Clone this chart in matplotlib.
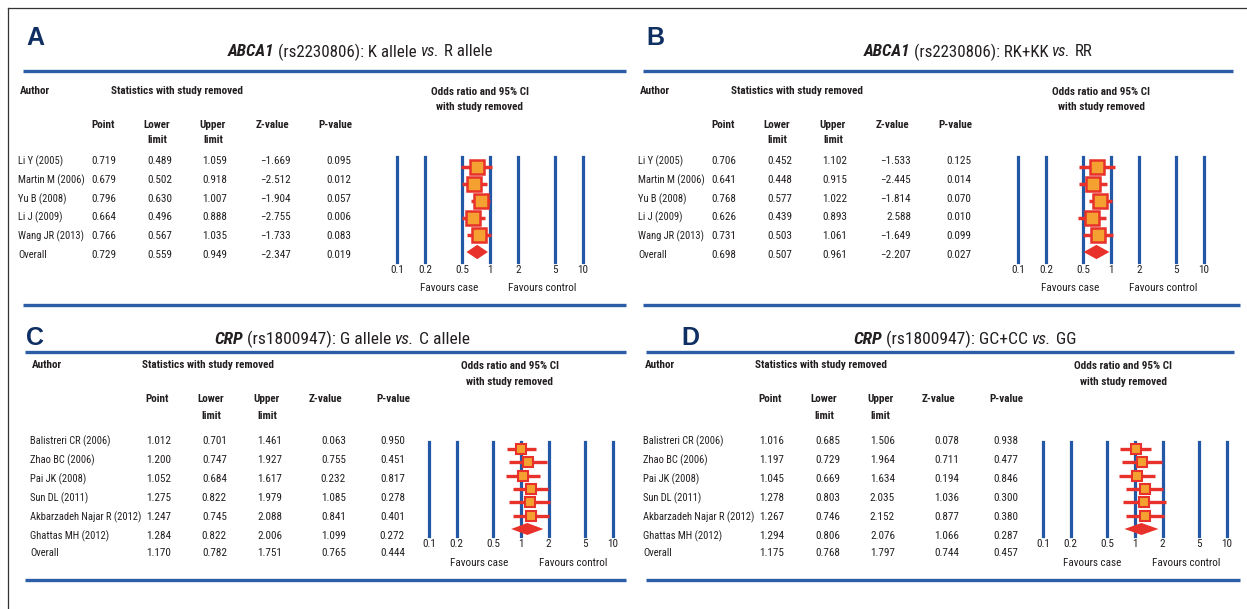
import matplotlib
matplotlib.use('Agg')
import matplotlib.pyplot as plt
from matplotlib import font_manager as fm
from matplotlib.ticker import NullLocator

# ---------------- data ----------------
ticks = [0.1, 0.2, 0.5, 1, 2, 5, 10]
tick_labels = ['0.1', '0.2', '0.5', '1', '2', '5', '10']

abca_authors = ['Li Y (2005)', 'Martin M (2006)', 'Yu B (2008)', 'Li J (2009)',
                'Wang JR (2013)', 'Overall']
A_point = [0.719, 0.679, 0.796, 0.664, 0.766, 0.729]
A_lower = [0.489, 0.502, 0.630, 0.496, 0.567, 0.559]
A_upper = [1.059, 0.918, 1.007, 0.888, 1.035, 0.949]
A_z = [-1.669, -2.512, -1.904, -2.755, -1.733, -2.347]
A_p = [0.095, 0.012, 0.057, 0.006, 0.083, 0.019]

B_point = [0.706, 0.641, 0.768, 0.626, 0.731, 0.698]
B_lower = [0.452, 0.448, 0.577, 0.439, 0.503, 0.507]
B_upper = [1.102, 0.915, 1.022, 0.893, 1.061, 0.961]
B_z = [-1.533, -2.445, -1.814, 2.588, -1.649, -2.207]
B_p = [0.125, 0.014, 0.070, 0.010, 0.099, 0.027]

crp_authors = ['Balistreri CR (2006)', 'Zhao BC (2006)', 'Pai JK (2008)',
               'Sun DL (2011)', 'Akbarzadeh Najar R (2012)', 'Ghattas MH (2012)',
               'Overall']
C_point = [1.012, 1.200, 1.052, 1.275, 1.247, 1.284, 1.170]
C_lower = [0.701, 0.747, 0.684, 0.822, 0.745, 0.822, 0.782]
C_upper = [1.461, 1.927, 1.617, 1.979, 2.088, 2.006, 1.751]
C_z = [0.063, 0.755, 0.232, 1.085, 0.841, 1.099, 0.765]
C_p = [0.950, 0.451, 0.817, 0.278, 0.401, 0.272, 0.444]

D_point = [1.016, 1.197, 1.045, 1.278, 1.267, 1.294, 1.175]
D_lower = [0.685, 0.729, 0.669, 0.803, 0.746, 0.806, 0.768]
D_upper = [1.506, 1.964, 1.634, 2.035, 2.152, 2.076, 1.797]
D_z = [0.078, 0.711, 0.194, 1.036, 0.877, 1.066, 0.744]
D_p = [0.938, 0.477, 0.846, 0.300, 0.380, 0.287, 0.457]

# ---------------- fonts ----------------
entries = fm.fontManager.ttflist
names = {f.name for f in entries}
FONT, STRETCH = None, 'normal'
for cand in ['Liberation Sans Narrow', 'Roboto Condensed', 'Open Sans Condensed',
             'Noto Sans Condensed', 'DejaVu Sans Condensed']:
    if cand in names:
        FONT = cand
        break
if FONT is None:
    if any(f.name == 'DejaVu Sans' and str(f.stretch) in ('condensed', 'semi-condensed')
           for f in entries):
        FONT, STRETCH = 'DejaVu Sans', 'condensed'
    else:
        FONT = 'Liberation Sans'
plt.rcParams['font.family'] = [FONT, 'DejaVu Sans']
plt.rcParams['font.stretch'] = STRETCH

TXT = '#231f20'
NAVY = '#0f2f62'
BLUE = '#2358a6'
RULE = '#2c5ea8'
RED = '#e8312a'
ORANGE = '#f4a131'

W, H = 1247, 609
fig = plt.figure(figsize=(W / 100, H / 100), dpi=100)
ov = fig.add_axes([0, 0, 1, 1])
ov.set_xlim(0, W)
ov.set_ylim(H, 0)
ov.axis('off')
renderer = fig.canvas.get_renderer()

BODY = 8.0
NAME = 7.6
HEAD = 8.0
TITLE = 12.2

# frame lines
ov.plot([8, W], [8, 8], color='#333333', lw=0.9)
ov.plot([8, 8], [8, H], color='#333333', lw=0.9)


def rule(x0, x1, y):
    ov.plot([x0, x1], [y, y], color=RULE, lw=2.4, solid_capstyle='butt')


def rich_title(xc, y, segs, size):
    ts = []
    for s, w, st in segs:
        ts.append(ov.text(0, y, s, fontsize=size, fontweight=w, fontstyle=st,
                          ha='left', va='center', color=TXT))
    a = ov.text(0, y, 'a a', fontsize=size)
    b = ov.text(0, y, 'aa', fontsize=size)
    sp = a.get_window_extent(renderer).width - b.get_window_extent(renderer).width
    a.remove(); b.remove()
    widths = [t.get_window_extent(renderer).width for t in ts]
    total = sum(widths) + sp * (len(ts) - 1)
    x = xc - total / 2
    for t, wd in zip(ts, widths):
        t.set_x(x)
        x += wd + sp


def fmt(v):
    return f'{v:.3f}'.replace('-', '\u2212')


def table(author_x, stat_x, hdr_y, centers, rights, ch_y1, ch_y2, row_ys,
          authors, cols):
    ov.text(author_x + 2, hdr_y, 'Author', fontsize=HEAD, fontweight='bold',
            ha='left', va='center', color=TXT)
    ov.text(stat_x, hdr_y, 'Statistics with study removed', fontsize=HEAD,
            fontweight='bold', ha='left', va='center', color=TXT)
    heads = [('Point', None), ('Lower', 'limit'), ('Upper', 'limit'),
             ('Z-value', None), ('P-value', None)]
    for (h1, h2), xc in zip(heads, centers):
        ov.text(xc, ch_y1, h1, fontsize=HEAD, fontweight='bold', ha='center',
                va='center', color=TXT)
        if h2:
            ov.text(xc, ch_y2, h2, fontsize=HEAD, fontweight='bold', ha='center',
                    va='center', color=TXT)
    for i, (name, y) in enumerate(zip(authors, row_ys)):
        ov.text(author_x, y, name, fontsize=NAME, ha='left', va='center', color=TXT)
        for col, xr in zip(cols, rights):
            ov.text(xr, y, fmt(col[i]), fontsize=BODY, ha='right', va='center',
                    color=TXT)


def forest(x01, x10, ytop, ybot, row0, step, point, lower, upper,
           ms, mew, lw, dh, or_xc, or_y1, or_y2, fav_y, fav_case, fav_ctrl):
    ax = fig.add_axes([x01 / W, 1 - ybot / H, (x10 - x01) / W, (ybot - ytop) / H])
    ax.set_xscale('log')
    ax.set_xlim(0.1, 10)
    ax.set_ylim((ybot - row0) / step, (ytop - row0) / step)
    ax.patch.set_alpha(0)
    for s in ax.spines.values():
        s.set_visible(False)
    for t in ticks:
        ax.axvline(t, color=BLUE, lw=2.3, zorder=1, clip_on=False)
    ax.set_xticks(ticks)
    ax.set_xticklabels(tick_labels)
    ax.xaxis.set_minor_locator(NullLocator())
    ax.tick_params(axis='x', length=0, pad=2.5, labelsize=BODY, labelcolor=TXT)
    ax.set_yticks([])
    n = len(point)
    rows = list(range(n))
    ax.hlines(rows[:-1], lower[:-1], upper[:-1], color=RED, lw=lw, zorder=2)
    ax.plot(point[:-1], rows[:-1], 's', ms=ms, mfc=ORANGE, mec=RED, mew=mew,
            ls='none', zorder=3)
    r = rows[-1]
    ax.fill([lower[-1], point[-1], upper[-1], point[-1]],
            [r, r - dh, r, r + dh], color=RED, lw=0, zorder=3)
    ov.text(or_xc, or_y1, 'Odds ratio and 95% CI', fontsize=HEAD, fontweight='bold',
            ha='center', va='center', color=TXT)
    ov.text(or_xc, or_y2, 'with study removed', fontsize=HEAD, fontweight='bold',
            ha='center', va='center', color=TXT)
    ov.text(fav_case, fav_y, 'Favours case', fontsize=BODY, ha='center',
            va='center', color=TXT)
    ov.text(fav_ctrl, fav_y, 'Favours control', fontsize=BODY, ha='center',
            va='center', color=TXT)


def letter(x, y, s):
    ov.text(x, y, s, fontsize=18, fontweight='bold', ha='left', va='center',
            color=NAVY, family=['Liberation Sans', 'DejaVu Sans'], fontstretch='normal')


# ---------------- top panels (A, B) ----------------
top_rows = [161.5, 180, 199, 217.5, 236, 255]
for off, lab, segs, P, L, U, Z, Pv in [
        (0, 'A', [('ABCA1', 'bold', 'italic'), ('(rs2230806): K allele', 'normal', 'normal'),
                  ('vs.', 'normal', 'italic'), ('R allele', 'normal', 'normal')],
         A_point, A_lower, A_upper, A_z, A_p),
        (620, 'B', [('ABCA1', 'bold', 'italic'), ('(rs2230806): RK+KK', 'normal', 'normal'),
                    ('vs.', 'normal', 'italic'), ('RR', 'normal', 'normal')],
         B_point, B_lower, B_upper, B_z, B_p)]:
    letter(26 + off, 38, lab)
    rich_title(360 + off - (2 if off else 0), 52, segs, TITLE)
    rule(23 + off, 626 + off if off == 0 else 1233, 70.5)
    rule(23 + off, 626 + off if off == 0 else 1240, 305)
    table(18 + off, 111 + off, 91, [103 + off, 157 + off, 213 + off, 272 + off, 335 + off],
          [116 + off, 172 + off, 227 + off, 291 + off, 351 + off], 125, 140, top_rows,
          abca_authors, [P, L, U, Z, Pv])
    fo = off + (1 if off else 0)
    forest(397 + fo, 583 + fo, 157, 262, 167, 17, P, L, U,
           ms=10, mew=1.8, lw=2.5, dh=0.42,
           or_xc=480 + fo, or_y1=92, or_y2=107, fav_y=288,
           fav_case=449 + fo, fav_ctrl=542 + fo)

# ---------------- bottom panels (C, D) ----------------
bot_rows = [441, 460, 479, 498, 517, 536, 553]
for off, lab, segs, P, L, U, Z, Pv in [
        (0, 'C', [('CRP', 'bold', 'italic'), ('(rs1800947): G allele', 'normal', 'normal'),
                  ('vs.', 'normal', 'italic'), ('C allele', 'normal', 'normal')],
         C_point, C_lower, C_upper, C_z, C_p),
        (613, 'D', [('CRP', 'bold', 'italic'), ('(rs1800947): GC+CC', 'normal', 'normal'),
                    ('vs.', 'normal', 'italic'), ('GG', 'normal', 'normal')],
         D_point, D_lower, D_upper, D_z, D_p)]:
    letter(26 + off + (42 if off else 0), 338, lab)
    rich_title(342 + (623 if off else 0), 339, segs, TITLE + 0.4)
    rule(25 + off + (8 if off else 0), 626 if off == 0 else 1234, 352)
    rule(25 + off + (8 if off else 0), 626 if off == 0 else 1240, 580)
    table(30 + off, 142 + off, 365, [157 + off, 211 + off, 267 + off, 325 + off, 393 + off],
          [171 + off, 227 + off, 282 + off, 346 + off, 405 + off], 399, 416, bot_rows,
          crp_authors, [P, L, U, Z, Pv])
    forest(429 + off + (1 if off else 0), 613 + off + (1 if off else 0), 442, 536, 449, 13.33,
           P, L, U, ms=7.2, mew=1.5, lw=2.4, dh=0.45,
           or_xc=510 + off, or_y1=366, or_y2=382, fav_y=563,
           fav_case=479 + off, fav_ctrl=573 + off)

fig.savefig('out.png', dpi=100)
